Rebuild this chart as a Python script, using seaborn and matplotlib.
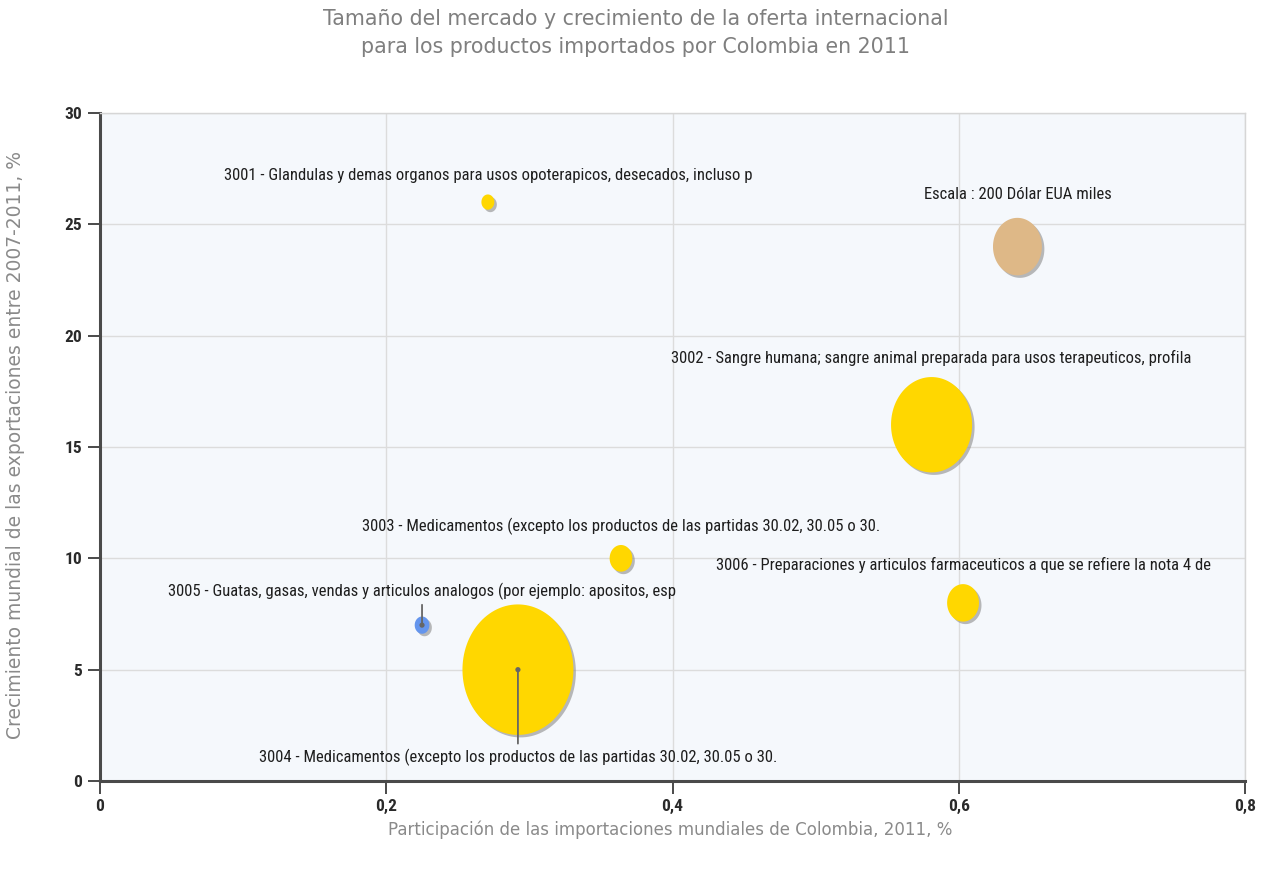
import numpy as np
import pandas as pd
import matplotlib
matplotlib.use("Agg")
import matplotlib.pyplot as plt
import seaborn as sns
from matplotlib.path import Path
from matplotlib.ticker import FixedLocator, FuncFormatter
from matplotlib.transforms import ScaledTranslation
from matplotlib import font_manager

# ---- data -------------------------------------------------------------
codes = ["3001", "3002", "3003", "3004", "3005", "3006"]
descriptions = [
    "3001 - Glandulas y demas organos para usos opoterapicos, desecados, incluso p",
    "3002 - Sangre humana; sangre animal preparada para usos terapeuticos, profila",
    "3003 - Medicamentos (excepto los productos de las partidas 30.02, 30.05 o 30.",
    "3004 - Medicamentos (excepto los productos de las partidas 30.02, 30.05 o 30.",
    "3005 - Guatas, gasas, vendas y articulos analogos (por ejemplo: apositos, esp",
    "3006 - Preparaciones y articulos farmaceuticos a que se refiere la nota 4 de",
]
participation = [0.271, 0.581, 0.364, 0.292, 0.225, 0.603]   # % of world imports
growth = [26, 16, 10, 5, 7, 8]                              # export growth 2007-2011, %
market_size = [14, 550, 43, 1030, 18, 85]                    # thousand USD
bubble_colors = ["#FFD700", "#FFD700", "#FFD700", "#FFD700", "#6495ED", "#FFD700"]
with_leader = ["3004", "3005"]
leader_below = ["3004"]

scale_label = "Escala : 200 Dólar EUA miles"
scale_value = 200
scale_x, scale_y = 0.641, 24

title_lines = ["Tamaño del mercado y crecimiento de la oferta internacional",
               "para los productos importados por Colombia en 2011"]
x_label = "Participación de las importaciones mundiales de Colombia, 2011, %"
y_label = "Crecimiento mundial de las exportaciones entre 2007-2011, %"
x_ticks = [0, 0.2, 0.4, 0.6, 0.8]
y_ticks = [0, 5, 10, 15, 20, 25, 30]

df = pd.DataFrame({"code": codes, "desc": descriptions, "x": participation,
                   "y": growth, "size": market_size})
scale_df = pd.DataFrame({"code": ["escala"], "x": [scale_x], "y": [scale_y],
                         "size": [scale_value]})

# ---- style ------------------------------------------------------------
sns.set_theme(style="whitegrid")
available = {f.name for f in font_manager.fontManager.ttflist}
narrow = next((f for f in ["Liberation Sans Narrow", "Arial Narrow",
                           "Roboto Condensed", "Liberation Sans"] if f in available),
              "DejaVu Sans")
plt.rcParams["font.family"] = ["DejaVu Sans"]

DPI = 100
fig = plt.figure(figsize=(12.68, 8.73), dpi=DPI)
fig.patch.set_facecolor("white")
ax = fig.add_axes([100 / 1268, 1 - 781 / 873, 1145 / 1268, 668 / 873])
ax.set_facecolor("#F5F8FC")

# elliptical bubble marker (slightly taller than wide)
ASPECT = 0.85
t = np.linspace(0, 2 * np.pi, 120)
verts = np.column_stack([ASPECT * np.cos(t), np.sin(t)])
ellipse = Path(np.vstack([verts, verts[:1]]), closed=True)

# marker area proportional to value
K = 8.57
NORM_MAX = 1200
size_kw = dict(size="size", sizes=(0, K * NORM_MAX), size_norm=(0, NORM_MAX))

shadow_shift = ScaledTranslation(2.5 / DPI, -2.5 / DPI, fig.dpi_scale_trans)


def bubbles(data, palette, z):
    # soft drop shadow
    sns.scatterplot(data=data, x="x", y="y", color="#8c8c8c", alpha=0.6,
                    marker=ellipse, edgecolor="none", legend=False, ax=ax,
                    zorder=z, **size_kw)
    ax.collections[-1].set_offset_transform(ax.transData + shadow_shift)
    sns.scatterplot(data=data, x="x", y="y", hue="code", palette=palette,
                    marker=ellipse, edgecolor="none", legend=False, ax=ax,
                    zorder=z + 0.1, **size_kw)


bubbles(df, dict(zip(codes, bubble_colors)), 2)
bubbles(scale_df, {"escala": "#DEB887"}, 2)

# centre dots for bubbles with leader lines
sns.scatterplot(data=df[df["code"].isin(with_leader)], x="x", y="y",
                color="#666666", s=14, edgecolor="none", legend=False, ax=ax, zorder=4)


def height_px(v):
    return np.sqrt(K * v) * DPI / 72


for _, r in df.iterrows():
    h = height_px(r["size"])
    if r["code"] in leader_below:
        off = -(h / 2 + 22)
    elif r["code"] in with_leader:
        off = h / 2 + 25
    else:
        off = h / 2 + 19
    arrow = None
    if r["code"] in with_leader:
        arrow = dict(arrowstyle="-", color="#666666", lw=1.3, shrinkA=1, shrinkB=0)
    ax.annotate(r["desc"], xy=(r["x"], r["y"]), xytext=(0, off),
                textcoords="offset pixels", ha="center", va="center",
                fontsize=12, family=narrow, color="#1e1e1e",
                arrowprops=arrow, zorder=5)

ax.annotate(scale_label, xy=(scale_x, scale_y),
            xytext=(0, height_px(scale_value) / 2 + 23), textcoords="offset pixels",
            ha="center", va="center", fontsize=12, family=narrow, color="#1e1e1e")

# ---- axes -------------------------------------------------------------
ax.set_xlim(0, 0.8)
ax.set_ylim(0, 30)
ax.xaxis.set_major_locator(FixedLocator(x_ticks))
ax.yaxis.set_major_locator(FixedLocator(y_ticks))
ax.xaxis.set_major_formatter(FuncFormatter(lambda v, p: f"{v:g}".replace(".", ",")))
ax.yaxis.set_major_formatter(FuncFormatter(lambda v, p: f"{v:g}"))
ax.grid(True, color="#dcdcdc", lw=1)
ax.set_axisbelow(True)

for side in ["left", "bottom"]:
    ax.spines[side].set_color("#4a4a4a")
    ax.spines[side].set_linewidth(2.2)
for side in ["top", "right"]:
    ax.spines[side].set_color("#d6d6d6")
    ax.spines[side].set_linewidth(1)

ax.tick_params(axis="both", which="major", bottom=True, left=True,
               length=9, width=1.4, color="#4a4a4a",
               direction="out", pad=4, labelsize=12.5, labelcolor="#2a2a2a")
for lab in ax.get_xticklabels() + ax.get_yticklabels():
    lab.set_family(narrow)
    lab.set_fontweight("bold")

ax.set_xlabel(x_label, fontsize=12, color="#8a8a8a")
ax.set_ylabel(y_label, fontsize=13.5, color="#8a8a8a")
ax.xaxis.set_label_coords(0.498, -0.0584)
ax.yaxis.set_label_coords(-0.0655, 0.503)

fig.text(0.501, 1 - 19 / 873, title_lines[0], ha="center", va="center",
         fontsize=14.8, color="#7f7f7f")
fig.text(0.501, 1 - 47 / 873, title_lines[1], ha="center", va="center",
         fontsize=14.8, color="#7f7f7f")

fig.savefig("out.png", dpi=DPI)
